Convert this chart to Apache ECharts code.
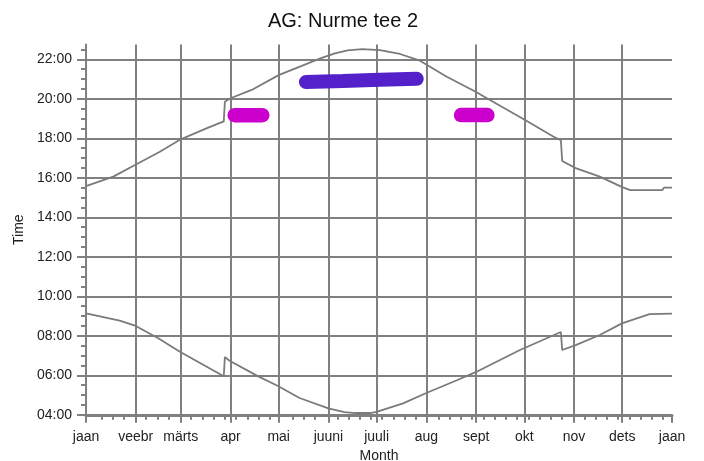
<!DOCTYPE html>
<html><head><meta charset="utf-8">
<script src="https://cdn.jsdelivr.net/npm/echarts@6/dist/echarts.min.js"></script>
<style>html,body{margin:0;padding:0;background:#fff}#c{width:704px;height:461px}</style>
</head><body><div id="c"></div>
<script>
const titleText = 'AG: Nurme tee 2';
const xName = 'Month';
const yName = 'Time';
// x axis: day of year (0..365)
const monthStarts = [0, 31, 59, 90, 120, 151, 181, 212, 243, 273, 304, 334, 365];
const monthLabels = ['jaan', 'veebr', 'märts', 'apr', 'mai', 'juuni', 'juuli', 'aug', 'sept', 'okt', 'nov', 'dets', 'jaan'];
const weekTicks = [9.5, 16.5, 23.5, 37.5, 44.5, 51.5, 65.5, 72.5, 79.5, 86.5, 93.5, 100.5, 107.5, 114.5,
  128.5, 135.5, 142.5, 156.5, 163.5, 170.5, 177.5, 184.5, 191.5, 198.5, 205.5, 219.5, 226.5, 233.5, 240.5,
  247.5, 254.5, 261.5, 268.5, 275.5, 282.5, 289.5, 296.5, 310.5, 317.5, 324.5, 331.5, 338.5, 345.5, 352.5, 359.5];
// y axis: hours
const hourTicks = [4, 6, 8, 10, 12, 14, 16, 18, 20, 22];
const hourLabels = ['04:00', '06:00', '08:00', '10:00', '12:00', '14:00', '16:00', '18:00', '20:00', '22:00'];
const halfHourTicks = [4.5, 5, 5.5, 6.5, 7, 7.5, 8.5, 9, 9.5, 10.5, 11, 11.5, 12.5, 13, 13.5, 14.5, 15, 15.5,
  16.5, 17, 17.5, 18.5, 19, 19.5, 20.5, 21, 21.5, 22.5];

// upper curve (evening), [day, hour]
const eveningCurve = [[0, 15.58], [17, 16.06], [30.5, 16.65], [46, 17.32], [59, 17.95], [75, 18.5], [85.8, 18.86],
  [86.5, 19.85], [90, 20.03], [104, 20.48], [120, 21.2], [146, 22.05], [155, 22.3], [163, 22.45], [172, 22.52],
  [183, 22.47], [195.6, 22.27], [208, 21.93], [224.7, 21.12], [242.7, 20.36], [251.6, 19.94], [273.5, 18.93],
  [291, 18.09], [295.8, 17.9], [296.6, 16.85], [305, 16.49], [320, 16.06], [334, 15.53], [339, 15.38],
  [359, 15.38], [360, 15.5], [365, 15.5]];
// lower curve (morning), [day, hour]
const morningCurve = [[0, 9.14], [21, 8.77], [31, 8.5], [45, 7.88], [58.5, 7.19], [85.8, 5.95], [86.5, 6.93],
  [89.7, 6.72], [107, 5.96], [119.6, 5.46], [133, 4.85], [151, 4.33], [161, 4.14], [168, 4.09], [177, 4.09],
  [181, 4.15], [197.5, 4.58], [211.6, 5.09], [231, 5.75], [243, 6.17], [270.3, 7.28], [295.8, 8.19],
  [296.6, 7.28], [305, 7.53], [320, 8.04], [333.8, 8.63], [351, 9.1], [365, 9.12]];
// highlighted periods
const springBand = [[92.6, 19.17], [109.8, 19.17]];
const summerBand = [[137, 20.85], [160, 20.9], [183, 20.96], [206, 21.01]];
const autumnBand = [[233.6, 19.18], [250, 19.18]];

const grey = '#808080';
const font = 'Liberation Sans, Arial, sans-serif';
const chart = echarts.init(document.getElementById('c'), null, {renderer: 'canvas'});
chart.setOption({
  animation: false,
  backgroundColor: '#fff',
  title: {
    text: titleText, left: 338, top: 6, textAlign: 'center',
    textStyle: {fontSize: 20, fontWeight: 'normal', color: '#111', fontFamily: font}
  },
  grid: {left: 86, right: 32, top: 44.5, bottom: 46.2, containLabel: false, outerBoundsMode: 'none'},
  xAxis: [{
    type: 'value', min: 0, max: 365, position: 'bottom',
    axisLine: {show: true, onZero: false, lineStyle: {color: grey, width: 3}},
    axisTick: {show: true, customValues: monthStarts, length: 8, lineStyle: {color: grey, width: 2}},
    axisLabel: {customValues: monthStarts, formatter: v => monthLabels[monthStarts.indexOf(v)],
      color: '#222', fontSize: 14, margin: 15, fontFamily: font},
    splitLine: {show: true, showMaxLine: false, lineStyle: {color: grey, width: 2}},
    name: xName, nameLocation: 'middle', nameGap: 33,
    nameTextStyle: {color: '#222', fontSize: 14, fontFamily: font}
  }, {
    type: 'value', min: 0, max: 365, position: 'bottom',
    axisLine: {show: false, onZero: false},
    axisTick: {show: true, customValues: weekTicks, length: 5, lineStyle: {color: grey, width: 2}},
    axisLabel: {show: false}, splitLine: {show: false}
  }],
  yAxis: [{
    type: 'value', min: 4, max: 22.75, position: 'left',
    axisLine: {show: true, onZero: false, lineStyle: {color: grey, width: 2}},
    axisTick: {show: true, customValues: hourTicks, length: 9, lineStyle: {color: grey, width: 2}},
    axisLabel: {customValues: hourTicks, formatter: v => hourLabels[hourTicks.indexOf(v)],
      color: '#222', fontSize: 14, margin: 14, fontFamily: font},
    splitLine: {show: true, lineStyle: {color: grey, width: 2}},
    name: yName, nameLocation: 'middle', nameGap: 60, nameRotate: 90,
    nameTextStyle: {color: '#222', fontSize: 14, fontFamily: font}
  }, {
    type: 'value', min: 4, max: 22.75, position: 'left',
    axisLine: {show: false, onZero: false},
    axisTick: {show: true, customValues: halfHourTicks, length: 5, lineStyle: {color: grey, width: 2}},
    axisLabel: {show: false}, splitLine: {show: false}
  }],
  series: [
    {type: 'line', data: eveningCurve, symbol: 'none', silent: true,
      lineStyle: {color: '#7a7a7a', width: 1.8}},
    {type: 'line', data: morningCurve, symbol: 'none', silent: true,
      lineStyle: {color: '#7a7a7a', width: 1.8}},
    {type: 'line', data: springBand, symbol: 'none', silent: true,
      lineStyle: {color: '#cc00cc', width: 14.5, cap: 'round'}},
    {type: 'line', data: summerBand, symbol: 'none', silent: true,
      lineStyle: {color: '#5420ca', width: 14, cap: 'round'}},
    {type: 'line', data: autumnBand, symbol: 'none', silent: true,
      lineStyle: {color: '#cc00cc', width: 14.5, cap: 'round'}}
  ]
});
</script>
</body></html>
